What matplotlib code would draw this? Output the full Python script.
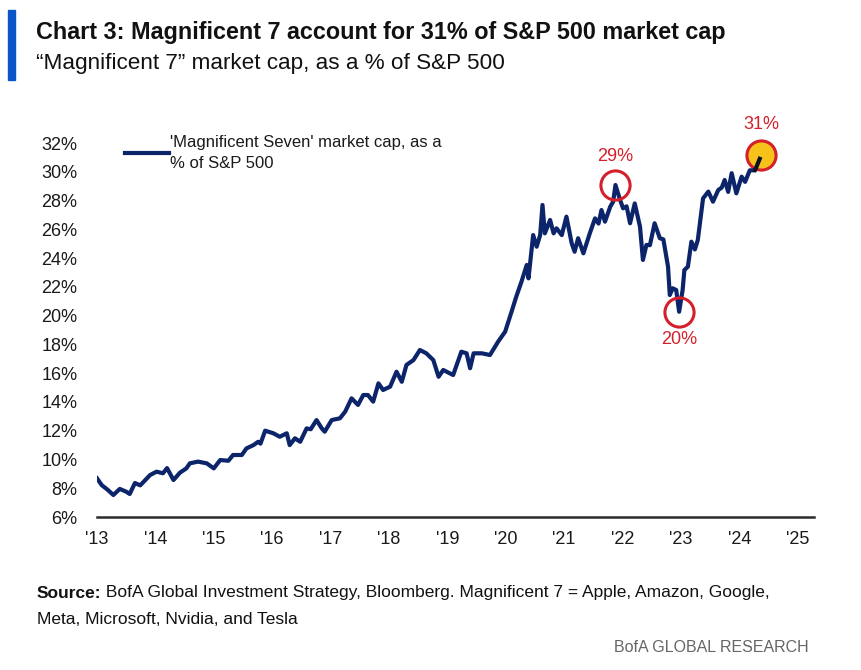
import matplotlib
matplotlib.use("Agg")
import matplotlib.pyplot as plt
from matplotlib.patches import Rectangle

# ---------------- data ----------------
years = [2013.00, 2013.08, 2013.18, 2013.28, 2013.39, 2013.50, 2013.56, 2013.65, 2013.74, 2013.91,
         2014.02, 2014.13, 2014.20, 2014.31, 2014.42, 2014.53, 2014.59, 2014.73, 2014.88, 2015.00,
         2015.11, 2015.25, 2015.33, 2015.48, 2015.56, 2015.68, 2015.76, 2015.80, 2015.88, 2016.02,
         2016.13, 2016.25, 2016.30, 2016.39, 2016.48, 2016.59, 2016.66, 2016.76, 2016.85, 2016.90,
         2017.02, 2017.16, 2017.25, 2017.36, 2017.47, 2017.56, 2017.64, 2017.73, 2017.82, 2017.90,
         2018.02, 2018.13, 2018.22, 2018.30, 2018.42, 2018.53, 2018.64, 2018.76, 2018.85, 2018.93,
         2019.10, 2019.24, 2019.33, 2019.39, 2019.45, 2019.59, 2019.73, 2019.87, 2019.99, 2020.10,
         2020.18, 2020.27, 2020.36, 2020.39, 2020.47, 2020.53, 2020.59, 2020.63, 2020.67, 2020.76,
         2020.82, 2020.87, 2020.96, 2021.04, 2021.13, 2021.18, 2021.24, 2021.33, 2021.44, 2021.53,
         2021.59, 2021.64, 2021.70, 2021.79, 2021.84, 2021.88, 2021.95, 2022.01, 2022.07, 2022.13,
         2022.21, 2022.30, 2022.35, 2022.41, 2022.47, 2022.55, 2022.64, 2022.70, 2022.78, 2022.81,
         2022.86, 2022.92, 2022.97, 2023.03, 2023.06, 2023.12, 2023.18, 2023.24, 2023.29, 2023.38,
         2023.47, 2023.55, 2023.64, 2023.70, 2023.75, 2023.81, 2023.87, 2023.95, 2024.04, 2024.10,
         2024.18, 2024.27, 2024.35]
mag7_share = [8.69, 8.22, 7.90, 7.53, 7.95, 7.76, 7.60, 8.36, 8.20, 8.92,
              9.15, 9.04, 9.40, 8.57, 9.08, 9.38, 9.73, 9.85, 9.73, 9.38,
              9.96, 9.91, 10.31, 10.31, 10.77, 11.00, 11.23, 11.10, 12.00, 11.82,
              11.58, 11.82, 11.00, 11.47, 11.23, 12.16, 12.10, 12.74, 12.16, 11.93,
              12.74, 12.86, 13.32, 14.25, 13.79, 14.48, 14.48, 14.02, 15.29, 14.83,
              15.06, 16.10, 15.40, 16.57, 16.91, 17.61, 17.38, 16.91, 15.75, 16.22,
              15.87, 17.49, 17.38, 16.34, 17.38, 17.38, 17.26, 18.19, 18.88, 20.27,
              21.31, 22.36, 23.52, 22.59, 25.60, 24.79, 25.60, 27.69, 25.72, 26.65,
              25.72, 26.07, 25.60, 26.88, 25.03, 24.44, 25.38, 24.33, 25.72, 26.76,
              26.40, 27.34, 26.53, 27.57, 27.92, 29.08, 28.15, 27.46, 27.60, 26.42,
              27.80, 26.18, 23.87, 24.91, 24.90, 26.42, 25.38, 25.30, 23.40, 21.43,
              21.90, 21.78, 20.27, 21.78, 23.17, 23.40, 25.14, 24.60, 25.26, 28.15,
              28.62, 27.92, 28.73, 28.90, 29.43, 28.60, 29.90, 28.50, 29.66, 29.30,
              30.10, 30.10, 30.90]

highlight_years = [2021.88, 2022.97, 2024.38]
highlight_vals = [29.08, 20.27, 31.17]
highlight_labels = ["29%", "20%", "31%"]

xtick_years = list(range(2013, 2026))
xtick_labels = ["'13", "'14", "'15", "'16", "'17", "'18", "'19", "'20", "'21", "'22", "'23", "'24", "'25"]
ytick_vals = list(range(6, 33, 2))
ytick_labels = [f"{v}%" for v in ytick_vals]

# ---------------- style ----------------
NAVY = "#0c2469"
RED = "#d3202b"
BLUE_BAR = "#0b55c8"
plt.rcParams["font.family"] = ["Liberation Sans", "DejaVu Sans"]

W, H = 861, 670
fig = plt.figure(figsize=(W / 100, H / 100), dpi=100)
fig.patch.set_facecolor("white")

def fx(px):
    return px / W

def fy(py):
    return 1 - py / H

ax = fig.add_axes([fx(97), fy(517), fx(814) - fx(97), fy(143) - fy(517)])
ax.plot(years, mag7_share, color=NAVY, lw=3.0, solid_joinstyle="round", zorder=3,
        label="'Magnificent Seven' market cap, as a\n% of S&P 500")

ax.set_xlim(2013.0, 2025.28)
ax.set_ylim(6, 32)
ax.set_xticks(xtick_years)
ax.set_xticklabels(xtick_labels)
ax.set_yticks(ytick_vals)
ax.set_yticklabels(ytick_labels)
ax.tick_params(axis="both", length=0, labelsize=13, colors="#1a1a1a")
ax.tick_params(axis="y", pad=14)
ax.tick_params(axis="x", pad=10)
for s in ["top", "right", "left"]:
    ax.spines[s].set_visible(False)
ax.spines["bottom"].set_color("#2b2b2b")
ax.spines["bottom"].set_linewidth(1.8)

# highlight circles
for i, (hx, hv) in enumerate(zip(highlight_years, highlight_vals)):
    face = "#f7c21a" if i == 2 else "none"
    ax.plot([hx], [hv], marker="o", ms=21, mfc=face, mec=RED, mew=2.2,
            zorder=2 if i == 2 else 4, clip_on=False)
ax.plot([2024.27, 2024.35], [30.1, 30.9], color="#111111", lw=2.4, zorder=3)

ax.text(highlight_years[0], 31.05, highlight_labels[0], color=RED, fontsize=13,
        ha="center", va="center")
ax.text(highlight_years[1], 18.35, highlight_labels[1], color=RED, fontsize=13,
        ha="center", va="center")
ax.text(highlight_years[2], 33.3, highlight_labels[2], color=RED, fontsize=13,
        ha="center", va="center", clip_on=False)

leg = ax.legend(loc="upper left", bbox_to_anchor=(0.03, 1.04),
                frameon=False, fontsize=12, handlelength=2.6, handletextpad=0.1,
                borderaxespad=0)
for t in leg.get_texts():
    t.set_color("#1a1a1a")
    t.set_linespacing(1.55)

# header
fig.patches.append(Rectangle((fx(8), fy(80)), fx(15) - fx(8), fy(10) - fy(80),
                             transform=fig.transFigure, color=BLUE_BAR, zorder=5))
fig.text(fx(36), fy(33), "Chart 3: Magnificent 7 account for 31% of S&P 500 market cap",
         fontsize=16.8, fontweight="bold", color="#111111", ha="left", va="center")
fig.text(fx(36), fy(64), "\u201cMagnificent 7\u201d market cap, as a % of S&P 500",
         fontsize=16.2, color="#111111", ha="left", va="center")

# footer
src = fig.text(fx(37), fy(593), "Source:", fontsize=12.5, fontweight="bold", color="#111111",
               ha="left", va="center")
fig.canvas.draw()
fig.text(0, 0, " BofA Global Investment Strategy, Bloomberg. Magnificent 7 = Apple, Amazon, Google,",
         fontsize=12.5, color="#111111", ha="left", va="center",
         transform=matplotlib.transforms.offset_copy(
             fig.transFigure, fig=fig,
             x=src.get_window_extent().x1 / fig.dpi * 72, y=fy(593) * H / fig.dpi * 72,
             units="points"))
fig.text(fx(37), fy(620), "Meta, Microsoft, Nvidia, and Tesla", fontsize=12.5,
         color="#111111", ha="left", va="center")
fig.text(fx(809), fy(647), "BofA GLOBAL RESEARCH", fontsize=11.5, color="#666666",
         ha="right", va="center")

fig.savefig("out.png", dpi=100, facecolor="white")
